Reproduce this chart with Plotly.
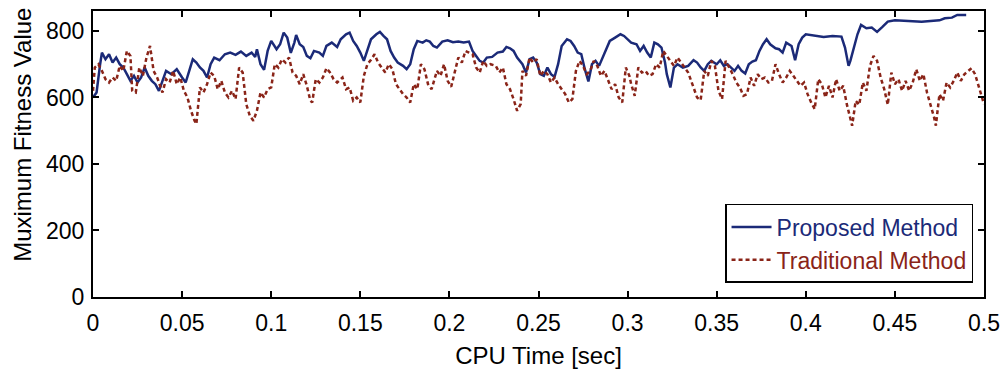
import plotly.graph_objects as go

# CPU time samples (sec) and best fitness found, proposed method
t_proposed = [
    0.000, 0.002, 0.004, 0.005, 0.007, 0.009, 0.011, 0.013, 0.015, 0.017,
    0.019, 0.021, 0.023, 0.025, 0.027, 0.029, 0.031, 0.033, 0.035, 0.037,
    0.039, 0.041, 0.044, 0.047, 0.050, 0.052, 0.054, 0.056, 0.058, 0.060,
    0.062, 0.064, 0.066, 0.068, 0.071, 0.074, 0.077, 0.080, 0.083, 0.086,
    0.089, 0.091, 0.092, 0.094, 0.096, 0.098, 0.100, 0.103, 0.105, 0.107,
    0.109, 0.111, 0.113, 0.114, 0.116, 0.118, 0.120, 0.122, 0.124, 0.127,
    0.129, 0.131, 0.134, 0.137, 0.139, 0.142, 0.144, 0.146, 0.148, 0.150,
    0.152, 0.154, 0.156, 0.159, 0.161, 0.163, 0.165, 0.167, 0.169, 0.171,
    0.174, 0.176, 0.178, 0.180, 0.182, 0.185, 0.187, 0.189, 0.191, 0.193,
    0.196, 0.199, 0.202, 0.205, 0.208, 0.211, 0.213, 0.215, 0.217, 0.219,
    0.221, 0.224, 0.227, 0.230, 0.232, 0.234, 0.236, 0.238, 0.241, 0.243,
    0.245, 0.247, 0.249, 0.251, 0.253, 0.255, 0.257, 0.259, 0.261, 0.263,
    0.266, 0.268, 0.270, 0.272, 0.274, 0.276, 0.278, 0.280, 0.282, 0.284,
    0.286, 0.288, 0.290, 0.293, 0.296, 0.298, 0.300, 0.302, 0.305, 0.307,
    0.309, 0.311, 0.313, 0.315, 0.317, 0.319, 0.321, 0.322, 0.324, 0.326,
    0.328, 0.331, 0.334, 0.337, 0.339, 0.341, 0.343, 0.345, 0.347, 0.350,
    0.352, 0.354, 0.356, 0.358, 0.360, 0.362, 0.364, 0.366, 0.368, 0.370,
    0.372, 0.374, 0.376, 0.378, 0.380, 0.383, 0.385, 0.387, 0.389, 0.392,
    0.394, 0.396, 0.398, 0.400, 0.403, 0.406, 0.410, 0.415, 0.420, 0.422,
    0.424, 0.425, 0.427, 0.429, 0.431, 0.434, 0.437, 0.440, 0.443, 0.446,
    0.450, 0.455, 0.460, 0.465, 0.470, 0.475, 0.478, 0.482, 0.485, 0.490,
]
fit_proposed = [
    600, 615, 700, 735, 715, 730, 705, 720, 700, 690,
    670, 650, 665, 645, 660, 690, 665, 650, 640, 620,
    650, 680, 670, 685, 660, 645, 680, 715, 705, 690,
    680, 660, 700, 720, 712, 730, 735, 728, 738, 725,
    735, 722, 745, 700, 683, 740, 770, 745, 760, 795,
    780, 734, 765, 788, 760, 752, 725, 718, 740, 735,
    725, 755, 765, 752, 775, 790, 795, 770, 755, 735,
    710, 740, 775, 790, 797, 785, 775, 740, 720, 705,
    695, 685, 700, 745, 770, 765, 772, 768, 755, 750,
    768, 772, 766, 768, 765, 768, 740, 725, 710, 705,
    720, 722, 735, 738, 752, 748, 740, 720, 700, 675,
    715, 720, 705, 670, 665, 690, 670, 662, 700, 755,
    775, 770, 755, 735, 730, 685, 648, 700, 710, 695,
    720, 745, 770, 780, 790, 785, 775, 765, 760, 740,
    755, 735, 720, 765, 760, 750, 705, 670, 630, 690,
    700, 690, 695, 712, 705, 690, 680, 700, 710, 700,
    712, 695, 700, 690, 680, 695, 680, 672, 700, 708,
    712, 740, 760, 775, 760, 748, 745, 735, 765, 755,
    712, 760, 780, 790, 788, 785, 782, 785, 783, 750,
    695, 710, 752, 790, 818, 808, 810, 797, 812, 828,
    832, 830, 830, 828, 830, 832, 838, 840, 848, 848,
]

# CPU time samples (sec) and best fitness found, traditional method
t_traditional = [
    0.000, 0.001, 0.003, 0.005, 0.007, 0.009, 0.011, 0.013, 0.015, 0.017,
    0.019, 0.021, 0.022, 0.024, 0.026, 0.028, 0.030, 0.032, 0.034, 0.036,
    0.038, 0.039, 0.041, 0.043, 0.045, 0.047, 0.049, 0.051, 0.053, 0.055,
    0.057, 0.058, 0.060, 0.062, 0.064, 0.066, 0.068, 0.070, 0.072, 0.074,
    0.076, 0.078, 0.080, 0.082, 0.084, 0.086, 0.088, 0.090, 0.092, 0.094,
    0.096, 0.098, 0.100, 0.102, 0.104, 0.106, 0.108, 0.110, 0.112, 0.114,
    0.116, 0.118, 0.120, 0.122, 0.123, 0.125, 0.127, 0.129, 0.131, 0.133,
    0.135, 0.137, 0.140, 0.142, 0.144, 0.146, 0.148, 0.150, 0.152, 0.154,
    0.156, 0.158, 0.160, 0.162, 0.164, 0.166, 0.168, 0.170, 0.172, 0.174,
    0.176, 0.178, 0.180, 0.182, 0.184, 0.186, 0.188, 0.190, 0.193, 0.195,
    0.197, 0.199, 0.201, 0.203, 0.205, 0.207, 0.209, 0.211, 0.213, 0.215,
    0.217, 0.219, 0.221, 0.223, 0.226, 0.228, 0.230, 0.232, 0.234, 0.236,
    0.238, 0.240, 0.241, 0.243, 0.245, 0.247, 0.249, 0.251, 0.253, 0.255,
    0.257, 0.259, 0.261, 0.263, 0.265, 0.267, 0.269, 0.271, 0.273, 0.275,
    0.277, 0.279, 0.281, 0.283, 0.285, 0.287, 0.289, 0.291, 0.293, 0.295,
    0.297, 0.299, 0.301, 0.302, 0.304, 0.306, 0.308, 0.310, 0.312, 0.314,
    0.316, 0.318, 0.320, 0.322, 0.324, 0.326, 0.328, 0.330, 0.332, 0.334,
    0.337, 0.339, 0.341, 0.343, 0.345, 0.347, 0.349, 0.351, 0.353, 0.355,
    0.357, 0.359, 0.361, 0.363, 0.365, 0.367, 0.369, 0.371, 0.373, 0.375,
    0.377, 0.379, 0.381, 0.383, 0.385, 0.387, 0.389, 0.391, 0.393, 0.395,
    0.397, 0.399, 0.401, 0.403, 0.405, 0.407, 0.409, 0.411, 0.413, 0.415,
    0.417, 0.419, 0.421, 0.423, 0.425, 0.426, 0.428, 0.430, 0.432, 0.434,
    0.436, 0.438, 0.440, 0.442, 0.444, 0.446, 0.448, 0.450, 0.452, 0.454,
    0.456, 0.458, 0.460, 0.462, 0.464, 0.466, 0.468, 0.470, 0.472, 0.473,
    0.475, 0.477, 0.479, 0.481, 0.483, 0.485, 0.487, 0.489, 0.491, 0.493,
    0.495, 0.497, 0.499, 0.500,
]
fit_traditional = [
    620, 690, 700, 680, 655, 645, 660, 650, 695, 680,
    740, 725, 620, 615, 690, 665, 720, 755, 680, 660,
    630, 615, 655, 645, 680, 640, 660, 620, 600, 560,
    530, 520, 630, 615, 640, 675, 665, 625, 650, 615,
    600, 620, 595, 690, 675, 580, 545, 530, 560, 615,
    600, 625, 630, 700, 690, 715, 705, 720, 675, 665,
    640, 670, 635, 590, 585, 655, 645, 660, 688, 675,
    655, 645, 660, 625, 630, 590, 600, 585, 665, 700,
    713, 730, 705, 690, 675, 700, 685, 640, 625, 610,
    600, 585, 640, 625, 700, 685, 640, 625, 680, 665,
    700, 650, 632, 680, 720, 705, 740, 735, 730, 690,
    675, 710, 695, 700, 695, 675, 690, 640, 625, 595,
    560, 580, 680, 665, 720, 705, 715, 665, 680, 670,
    645, 660, 640, 625, 610, 585, 595, 680, 710, 695,
    670, 680, 710, 695, 665, 680, 650, 625, 640, 600,
    585, 690, 665, 640, 605, 690, 675, 680, 665, 670,
    700, 690, 740, 725, 710, 695, 720, 705, 690, 675,
    630, 600, 592, 680, 665, 710, 695, 620, 595, 710,
    690, 670, 645, 630, 605, 610, 660, 635, 670, 655,
    660, 645, 650, 700, 670, 645, 660, 680, 665, 650,
    635, 645, 610, 585, 565, 655, 640, 600, 635, 600,
    655, 620, 635, 580, 530, 515, 590, 578, 645, 620,
    695, 725, 710, 660, 625, 578, 675, 640, 655, 620,
    650, 620, 645, 685, 650, 670, 615, 580, 540, 515,
    610, 590, 645, 630, 650, 675, 650, 670, 680, 688,
    670, 635, 600, 580,
]

x_tickvals = [0, 0.05, 0.1, 0.15, 0.2, 0.25, 0.3, 0.35, 0.4, 0.45, 0.5]
x_ticktext = ["0", "0.05", "0.1", "0.15", "0.2", "0.25", "0.3", "0.35", "0.4", "0.45", "0.5"]
y_tickvals = [0, 200, 400, 600, 800]

BLUE = "#1b2a78"
RED = "#8a2418"
FONT = "Liberation Sans, Arial, sans-serif"

fig = go.Figure()
fig.add_trace(go.Scatter(
    x=t_proposed, y=fit_proposed, mode="lines",
    name=f"<span style='color:{BLUE}'>Proposed Method</span>",
    line=dict(color=BLUE, width=2.5),
))
fig.add_trace(go.Scatter(
    x=t_traditional, y=fit_traditional, mode="lines",
    name=f"<span style='color:{RED}'>Traditional Method</span>",
    line=dict(color=RED, width=2.5, dash="4px,3px"),
))

axis_common = dict(
    showline=True, linecolor="black", linewidth=2, mirror="ticks",
    ticks="inside", ticklen=6, tickwidth=1.5, tickcolor="black",
    showgrid=False, zeroline=False, automargin=False,
    tickfont=dict(family=FONT, size=23, color="black"),
)

fig.update_xaxes(
    range=[0, 0.5], tickvals=x_tickvals, ticktext=x_ticktext,
    title=dict(text="CPU Time [sec]", font=dict(family=FONT, size=24, color="black"), standoff=13),
    ticklabelstandoff=4,
    **axis_common,
)
fig.update_yaxes(
    range=[0, 860], tickvals=y_tickvals,
    ticklabelstandoff=2,
    **axis_common,
)

fig.add_annotation(
    text="Muximum Fitness Value", textangle=-90,
    xref="paper", yref="paper", x=-0.08, y=0.566,
    xanchor="center", yanchor="middle", showarrow=False,
    font=dict(family=FONT, size=24, color="black"),
)

fig.update_layout(
    width=1000, height=376,
    margin=dict(l=93, r=16, t=11, b=79, autoexpand=False),
    paper_bgcolor="white", plot_bgcolor="white",
    showlegend=True,
    legend=dict(
        x=0.9877, y=0.049, xanchor="right", yanchor="bottom",
        bgcolor="white", bordercolor="black", borderwidth=1.5,
        font=dict(family=FONT, size=23, color="black"),
        tracegroupgap=0, itemwidth=40,
    ),
)

fig.write_html("out.html")
